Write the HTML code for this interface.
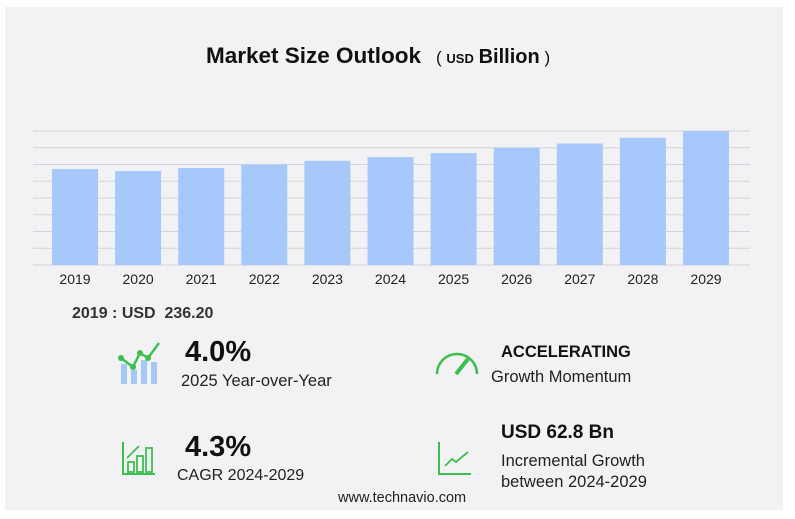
<!DOCTYPE html>
<html><head><meta charset="utf-8"><style>
body{margin:0;width:795px;height:519px;background:#fff;font-family:"Liberation Sans",sans-serif;overflow:hidden;position:relative}
#panel{position:absolute;left:5px;top:7px;width:778px;height:503px;background:#f2f2f4}
.t{position:absolute;white-space:nowrap;color:#111}
</style></head><body>
<div id="panel"></div>
<div class="t" style="left:206px;top:43px;font-size:22.5px;font-weight:bold">Market Size Outlook</div>
<div class="t" style="left:436px;top:46px;font-size:17px"><span>(</span> <span style="font-size:13px;font-weight:bold">USD</span> <span style="font-size:20px;font-weight:bold">Billion</span> <span>)</span></div>
<svg id="chart" width="795" height="300" style="position:absolute;left:0;top:0"></svg>
<div class="t" style="left:72px;top:305px;font-size:16px;font-weight:bold;color:#333">2019 : USD&nbsp; 236.20</div>

<svg style="position:absolute;left:118px;top:340px" width="50" height="46">
<rect x="3" y="24" width="6" height="20" fill="#a6c8f5"/><rect x="13" y="30" width="6" height="14" fill="#a6c8f5"/><rect x="23" y="20" width="6" height="24" fill="#a6c8f5"/><rect x="33" y="22" width="6" height="22" fill="#a6c8f5"/>
<polyline points="3,18 15,27 22,13 30,18 41,3" fill="none" stroke="#3dbf4f" stroke-width="2.5"/>
<circle cx="3" cy="18" r="3" fill="#3dbf4f"/><circle cx="15" cy="27" r="3" fill="#3dbf4f"/><circle cx="22" cy="13" r="3" fill="#3dbf4f"/><circle cx="30" cy="18" r="3" fill="#3dbf4f"/></svg>
<div class="t" style="left:185px;top:336px;font-size:29px;font-weight:bold">4.0%</div>
<div class="t" style="left:181px;top:372px;font-size:16.5px;color:#222">2025 Year-over-Year</div>

<svg style="position:absolute;left:434px;top:348px" width="46" height="30">
<path d="M3,26 A20,20 0 0 1 43,26" fill="none" stroke="#3dbf4f" stroke-width="2.5"/>
<line x1="22" y1="26" x2="34" y2="11" stroke="#3dbf4f" stroke-width="4"/></svg>
<div class="t" style="left:501px;top:343px;font-size:16.5px;font-weight:bold">ACCELERATING</div>
<div class="t" style="left:491px;top:368px;font-size:16.5px;color:#222">Growth Momentum</div>

<svg style="position:absolute;left:121px;top:440px" width="36" height="36">
<path d="M2,2 V34 H34" fill="none" stroke="#3dbf4f" stroke-width="2"/>
<rect x="7" y="22" width="6" height="10" fill="none" stroke="#3dbf4f" stroke-width="1.8"/><rect x="16" y="16" width="6" height="16" fill="none" stroke="#3dbf4f" stroke-width="1.8"/><rect x="25" y="8" width="6" height="24" fill="none" stroke="#3dbf4f" stroke-width="1.8"/>
<line x1="6" y1="18" x2="18" y2="6" stroke="#3dbf4f" stroke-width="1.8"/></svg>
<div class="t" style="left:185px;top:431px;font-size:29px;font-weight:bold">4.3%</div>
<div class="t" style="left:177px;top:467px;font-size:16px;color:#222">CAGR 2024-2029</div>

<svg style="position:absolute;left:437px;top:440px" width="36" height="36">
<path d="M2,2 V34 H34" fill="none" stroke="#3dbf4f" stroke-width="2"/>
<polyline points="8,26 15,19 19,22 31,12" fill="none" stroke="#3dbf4f" stroke-width="1.8"/></svg>
<div class="t" style="left:501px;top:422px;font-size:19px;font-weight:bold">USD 62.8 Bn</div>
<div class="t" style="left:501px;top:451px;font-size:16.5px;color:#222;line-height:21px">Incremental Growth<br>between 2024-2029</div>
<div class="t" style="left:338px;top:490px;font-size:14.5px;color:#222">www.technavio.com</div>

<script>
const categories=["2019","2020","2021","2022","2023","2024","2025","2026","2027","2028","2029"];
const values=[236.2,231.3,238.7,247.3,256.6,265.7,275.6,288.6,299.0,313.2,329.7];
const yMax=330;
const gridCount=8;
const svg=document.getElementById('chart');
const NS='http://www.w3.org/2000/svg';
const x0=43,step=63.1,bw=46,baseY=265,topY=131;
const y=v=>baseY-(v/yMax)*(baseY-topY);
for(let i=0;i<=gridCount;i++){
 const l=document.createElementNS(NS,'line');
 const gy=y(yMax*i/gridCount);
 l.setAttribute('x1',33);l.setAttribute('x2',750);l.setAttribute('y1',gy);l.setAttribute('y2',gy);
 l.setAttribute('stroke','#d4d4d8');l.setAttribute('stroke-width','1');
 
 
 svg.appendChild(l);
}
categories.forEach((c,i)=>{
 const r=document.createElementNS(NS,'rect');
 const cx=x0+bw/2+9+i*step;
 r.setAttribute('x',cx-bw/2);r.setAttribute('width',bw);
 r.setAttribute('y',y(values[i]));r.setAttribute('height',baseY-y(values[i]));
 r.setAttribute('fill','#a6c8fa');
 
 
 svg.appendChild(r);
 const t=document.createElementNS(NS,'text');
 t.setAttribute('x',cx);t.setAttribute('y',284);t.setAttribute('text-anchor','middle');
 t.setAttribute('font-size','14');t.setAttribute('fill','#222');
 t.setAttribute('font-family','Liberation Sans, sans-serif');
 t.textContent=c;
 
 
 svg.appendChild(t);
});
</script>
</body></html>
